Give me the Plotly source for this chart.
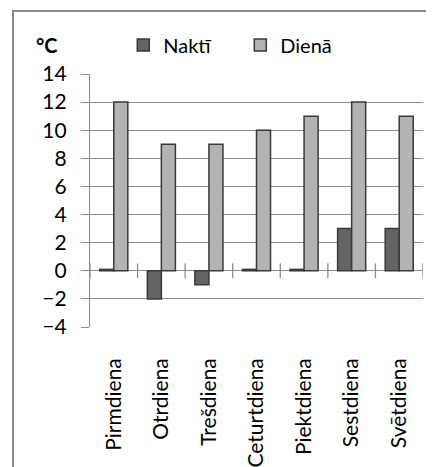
import plotly.graph_objects as go

days = ["Pirmdiena", "Otrdiena", "Trešdiena", "Ceturtdiena", "Piektdiena", "Sestdiena", "Svētdiena"]
nakti = [0.1, -2, -1, 0.1, 0.1, 3, 3]
diena = [12, 9, 9, 10, 11, 12, 11]
y_ticks = [-4, -2, 0, 2, 4, 6, 8, 10, 12, 14]

FONT = "Lato"
GRID = "#8c8c8c"

fig = go.Figure()
fig.add_trace(go.Bar(name="Naktī", x=days, y=nakti,
                     marker=dict(color="#646464", line=dict(color="#3a3a3a", width=1.5))))
fig.add_trace(go.Bar(name="Dienā", x=days, y=diena,
                     marker=dict(color="#b3b3b3", line=dict(color="#3a3a3a", width=1.5))))

shapes = []
# category cross ticks on the zero line
for i in range(len(days) + 1):
    shapes.append(dict(type="line", xref="x", yref="y", x0=i - 0.5, x1=i - 0.5,
                       y0=-0.53, y1=0.53, line=dict(color=GRID, width=1.3)))
# outer chart border (left and top)
shapes.append(dict(type="path", xref="paper", yref="paper",
                   path="M -0.2312 -1 L -0.2312 1.249 L 1.2 1.249",
                   line=dict(color="#8a8a8a", width=2)))

fig.update_layout(
    width=434, height=467,
    margin=dict(l=82, r=19, t=66, b=148, autoexpand=False),
    paper_bgcolor="white", plot_bgcolor="white",
    barmode="group", bargap=0.41, bargroupgap=0,
    font=dict(family=FONT, size=20, color="black"),
    showlegend=True,
    legend=dict(orientation="h", x=0.1, y=1.115, xanchor="left", yanchor="middle",
                font=dict(family=FONT, size=20), itemwidth=30, bgcolor="rgba(0,0,0,0)",
                entrywidth=72),
    shapes=shapes,
    annotations=[dict(text="<b>°C</b>", xref="paper", yref="paper", x=-0.13, y=1.115,
                      showarrow=False, font=dict(family=FONT, size=20, color="black"),
                      xanchor="center", yanchor="middle")],
)
fig.update_xaxes(showline=False, showgrid=False, ticks="", tickangle=-90, automargin=False,
                 ticklabelstandoff=26, tickfont=dict(family=FONT, size=21),
                 range=[-0.5, 6.5], fixedrange=True)
fig.update_yaxes(range=[-4, 14], tickvals=y_ticks, showgrid=True, gridcolor=GRID, gridwidth=1.3,
                 showline=True, linecolor=GRID, linewidth=1.3, ticks="outside", ticklen=8,
                 tickcolor=GRID, tickwidth=1.3, zeroline=False, automargin=False,
                 tickfont=dict(family=FONT, size=21), ticklabelstandoff=10)

fig.write_html("out.html")
